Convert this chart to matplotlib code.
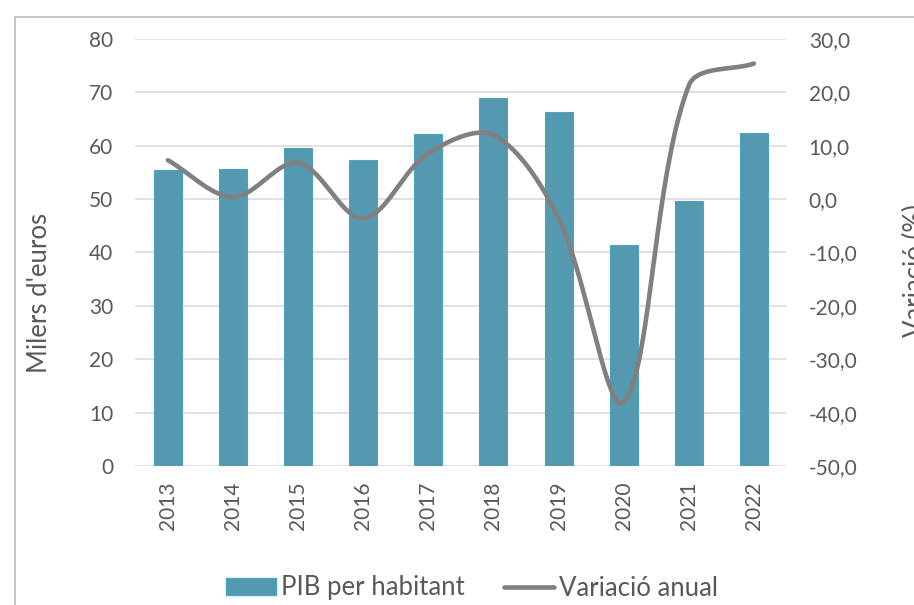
import numpy as np
import matplotlib
matplotlib.use('Agg')
import matplotlib.pyplot as plt
from matplotlib.patches import Rectangle
from matplotlib.lines import Line2D

plt.rcParams['font.family'] = ['Lato', 'DejaVu Sans']

# dades
years = ['2013', '2014', '2015', '2016', '2017', '2018', '2019', '2020', '2021', '2022']
pib_hab = [55.5, 55.7, 59.5, 57.4, 62.2, 68.9, 66.3, 41.4, 49.6, 62.4]
variacio = [7.3, 0.4, 6.8, -3.6, 8.6, 12.0, -3.6, -38.0, 21.3, 25.4]

bar_color = '#5499b0'
line_color = '#808080'
text_color = '#595959'


def smooth(xs, ys, sx=65.1, sy=5.34, n=40):
    # corba suavitzada tipus Excel (Bezier amb tangents segons la longitud dels trams)
    P = np.column_stack([np.asarray(xs, float) * sx, np.asarray(ys, float) * sy])
    P = np.vstack([P[0], P, P[-1]])
    d = np.linalg.norm(np.diff(P, axis=0), axis=1)
    t = np.linspace(0, 1, n)[:, None]
    pts = []
    for i in range(1, len(P) - 2):
        p0, p3 = P[i], P[i + 1]
        k1 = d[i] / (3 * (d[i - 1] + d[i])) if d[i - 1] + d[i] > 0 else 0
        k2 = d[i] / (3 * (d[i] + d[i + 1])) if d[i] + d[i + 1] > 0 else 0
        c1 = p0 + (P[i + 1] - P[i - 1]) * k1
        c2 = p3 - (P[i + 2] - P[i]) * k2
        b = (1 - t) ** 3 * p0 + 3 * (1 - t) ** 2 * t * c1 + 3 * (1 - t) * t ** 2 * c2 + t ** 3 * p3
        pts.append(b)
    pts = np.vstack(pts)
    return pts[:, 0] / sx, pts[:, 1] / sy


fig = plt.figure(figsize=(9.14, 6.05), dpi=100)
ax1 = fig.add_axes([0.148, 0.2298, 0.7125, 0.7057])
ax2 = ax1.twinx()

x = np.arange(len(years))
ax1.bar(x, pib_hab, width=0.43, color=bar_color, edgecolor='#4ba3c3', linewidth=0.8, zorder=2)

lx, ly = smooth(x, variacio)
ax2.plot(lx, ly, color=line_color, linewidth=3.3, solid_capstyle='round', zorder=3)

ax1.set_xlim(-0.5, len(years) - 0.5)
ax1.set_ylim(0, 80)
ax1.set_yticks(range(0, 81, 10))
ax2.set_ylim(-50, 30)
ax2.set_yticks(range(-50, 31, 10))
ax2.set_yticklabels([f'{v:.1f}'.replace('.', ',') for v in range(-50, 31, 10)])

ax1.set_xticks(x)
ax1.set_xticklabels(years, rotation=90)

ax1.grid(axis='y', color='#d9d9d9', linewidth=1.1, zorder=0)
ax1.set_axisbelow(True)
for a in (ax1, ax2):
    for s in a.spines.values():
        s.set_visible(False)
    a.tick_params(length=0, labelsize=15, colors=text_color)
ax1.tick_params(axis='y', pad=16)
ax2.tick_params(axis='y', pad=16)
ax1.tick_params(axis='x', pad=11)

fig.text(27 / 914, 1 - 293 / 605, "Milers d'euros", rotation=90, ha='left', va='center',
         fontsize=18.5, color=text_color)
fig.text(903 / 914, 1 - 271 / 605, 'Variació (%)', rotation=90, ha='left', va='center',
         fontsize=18.5, color=text_color)

# marc del gràfic
fig.patches.append(Rectangle((15 / 914, -0.1), 1.0, 1.1 - 17 / 605, transform=fig.transFigure,
                             fill=False, edgecolor='#bfbfbf', linewidth=1.3))

handles = [Rectangle((0, 0), 1, 1, facecolor=bar_color, edgecolor='#4ba3c3'),
           Line2D([0], [0], color=line_color, linewidth=3.3, solid_capstyle='round')]
fig.legend(handles, ['PIB per habitant', 'Variació anual'], loc='center',
           bbox_to_anchor=(472 / 914, 1 - 588 / 605), ncol=2, frameon=False,
           fontsize=18.5, handlelength=1.95, handleheight=0.62, handletextpad=0.2,
           columnspacing=1.5, labelcolor=text_color)

fig.savefig('out.png', dpi=100)
